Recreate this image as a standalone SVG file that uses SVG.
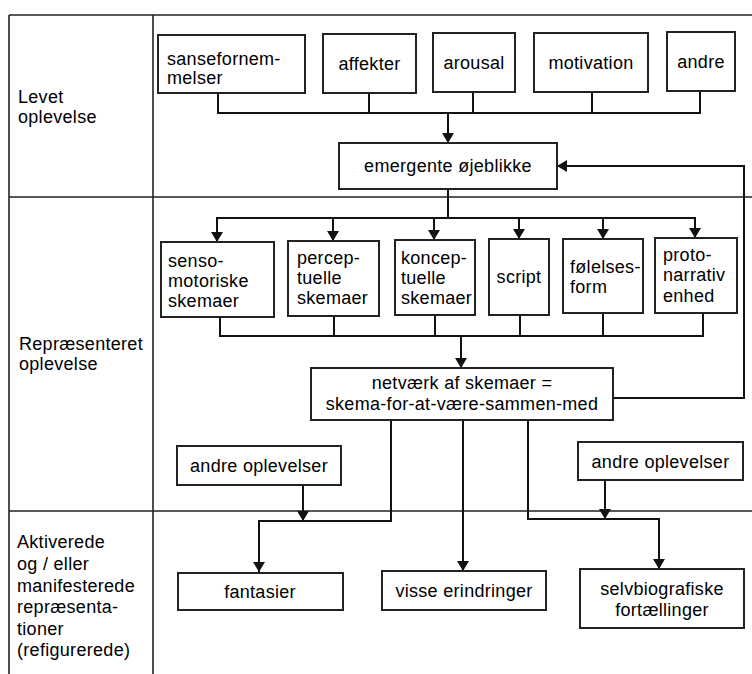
<svg xmlns="http://www.w3.org/2000/svg" width="752" height="674" viewBox="0 0 752 674">
<style>
text{font-family:"Liberation Sans",Arial,sans-serif;font-size:18px;letter-spacing:0.3px;fill:#000}
.m{text-anchor:middle}
.box{fill:#fff;stroke:#222;stroke-width:2}
.frame{stroke:#222;stroke-width:1.6;fill:none}
.c{stroke:#111;stroke-width:2;fill:none}
.a{marker-end:url(#arr)}
</style>
<defs>
<marker id="arr" viewBox="0 0 10 12" refX="10" refY="6" markerWidth="10" markerHeight="12" markerUnits="userSpaceOnUse" orient="auto">
<path d="M0,0 L10,6 L0,12 Z" fill="#111"/>
</marker>
</defs>
<rect width="752" height="674" fill="#fff"/>
<g id="frame">
<line class="frame" x1="9" y1="15" x2="752" y2="15"/>
<line class="frame" x1="9" y1="15" x2="9" y2="674"/>
<line class="frame" x1="153" y1="15" x2="153" y2="674"/>
<line class="frame" x1="9" y1="197" x2="752" y2="197"/>
<line class="frame" x1="9" y1="511" x2="752" y2="511"/>
</g>
<g id="labels">
<text x="18" y="103">Levet</text>
<text x="18" y="123">oplevelse</text>
<text x="19" y="350">Repræsenteret</text>
<text x="19" y="370">oplevelse</text>
<text x="17" y="548">Aktiverede</text>
<text x="17" y="570">og / eller</text>
<text x="17" y="592">manifesterede</text>
<text x="17" y="613">repræsenta-</text>
<text x="17" y="635">tioner</text>
<text x="17" y="656">(refigurerede)</text>
</g>
<g id="connectors">
<polyline class="c" points="218,93 218,113 700,113 700,91"/>
<line class="c" x1="369" y1="93" x2="369" y2="113"/>
<line class="c" x1="473" y1="92" x2="473" y2="113"/>
<line class="c" x1="592" y1="92" x2="592" y2="113"/>
<line class="c a" x1="448" y1="113" x2="448" y2="143"/>
<line class="c" x1="448" y1="189" x2="448" y2="218"/>
<line class="c" x1="217" y1="218" x2="695" y2="218"/>
<line class="c a" x1="217" y1="217" x2="217" y2="242"/>
<line class="c a" x1="333" y1="217" x2="333" y2="241"/>
<line class="c a" x1="434" y1="217" x2="434" y2="240"/>
<line class="c a" x1="519" y1="217" x2="519" y2="239"/>
<line class="c a" x1="603" y1="217" x2="603" y2="239"/>
<line class="c a" x1="695" y1="217" x2="695" y2="238"/>
<polyline class="c" points="220,317 220,336 703,336 703,313"/>
<line class="c" x1="334" y1="316" x2="334" y2="336"/>
<line class="c" x1="435" y1="315" x2="435" y2="336"/>
<line class="c" x1="520" y1="315" x2="520" y2="336"/>
<line class="c" x1="603" y1="313" x2="603" y2="336"/>
<line class="c a" x1="461" y1="336" x2="461" y2="368"/>
<polyline class="c a" points="613,398 744,398 744,166 557,166"/>
<polyline class="c a" points="391,420 391,521 259,521 259,572"/>
<line class="c a" x1="303" y1="485" x2="303" y2="521"/>
<line class="c a" x1="463" y1="420" x2="463" y2="571"/>
<polyline class="c a" points="528,420 528,519 659,519 659,569"/>
<line class="c a" x1="605" y1="480" x2="605" y2="519"/>
</g>
<g id="n-sanse"><rect class="box" x="158" y="35" width="147" height="58"/><text x="167" y="65">sansefornem-</text><text x="167" y="84">melser</text></g>
<g id="n-affekter"><rect class="box" x="323" y="34" width="93" height="59"/><text class="m" x="369.5" y="70">affekter</text></g>
<g id="n-arousal"><rect class="box" x="433" y="33" width="82" height="59"/><text class="m" x="474" y="69">arousal</text></g>
<g id="n-motivation"><rect class="box" x="534" y="33" width="114" height="59"/><text class="m" x="591" y="69">motivation</text></g>
<g id="n-andre"><rect class="box" x="667" y="32" width="68" height="59"/><text class="m" x="701" y="68">andre</text></g>
<g id="n-emergente"><rect class="box" x="339" y="143" width="218" height="46"/><text class="m" x="448" y="172">emergente øjeblikke</text></g>
<g id="n-senso"><rect class="box" x="161" y="242" width="113" height="75"/><text x="168" y="267">senso-</text><text x="168" y="287">motoriske</text><text x="168" y="307">skemaer</text></g>
<g id="n-percep"><rect class="box" x="288" y="241" width="91" height="75"/><text x="297" y="264">percep-</text><text x="297" y="284">tuelle</text><text x="297" y="304">skemaer</text></g>
<g id="n-koncep"><rect class="box" x="395" y="240" width="80" height="75"/><text x="401" y="264">koncep-</text><text x="401" y="284">tuelle</text><text x="401" y="304">skemaer</text></g>
<g id="n-script"><rect class="box" x="489" y="239" width="60" height="76"/><text class="m" x="519" y="283">script</text></g>
<g id="n-folelses"><rect class="box" x="563" y="239" width="80" height="74"/><text x="570" y="273">følelses-</text><text x="570" y="293">form</text></g>
<g id="n-proto"><rect class="box" x="655" y="238" width="82" height="75"/><text x="663" y="261">proto-</text><text x="663" y="281">narrativ</text><text x="663" y="302">enhed</text></g>
<g id="n-netvaerk"><rect class="box" x="311" y="368" width="302" height="52"/><text class="m" x="462" y="389">netværk af skemaer =</text><text class="m" x="462" y="410">skema-for-at-være-sammen-med</text></g>
<g id="n-andre1"><rect class="box" x="177" y="446" width="164" height="39"/><text class="m" x="259" y="472">andre oplevelser</text></g>
<g id="n-andre2"><rect class="box" x="578" y="442" width="165" height="38"/><text class="m" x="660.5" y="468">andre oplevelser</text></g>
<g id="n-fantasier"><rect class="box" x="178" y="573" width="165" height="37"/><text class="m" x="260" y="598">fantasier</text></g>
<g id="n-visse"><rect class="box" x="382" y="571" width="164" height="39"/><text class="m" x="464" y="597">visse erindringer</text></g>
<g id="n-selvbio"><rect class="box" x="580" y="569" width="164" height="59"/><text class="m" x="662" y="595">selvbiografiske</text><text class="m" x="662" y="616">fortællinger</text></g>
</svg>
